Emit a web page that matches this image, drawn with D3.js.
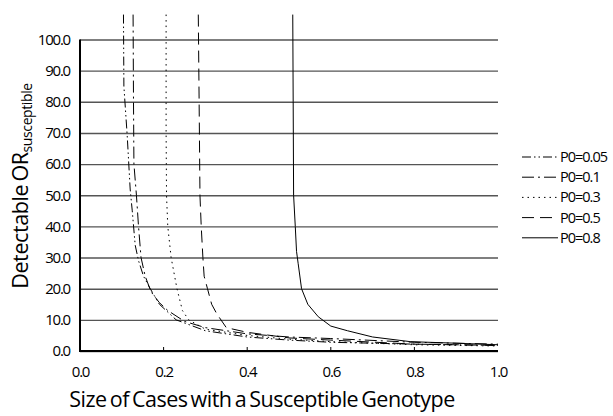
<!DOCTYPE html>
<html>
<head>
<meta charset="utf-8">
<script src="https://cdn.jsdelivr.net/npm/d3@7"></script>
<style>
  body { margin: 0; background: #fff; }
  svg { display: block; font-family: "Open Sans", sans-serif; }
  .grid line { stroke: #555; stroke-width: 1.4; }
  .grid path { display: none; }
  .tick text { fill: #000; }
</style>
</head>
<body>
<script>
// x = fraction of cases with a susceptible genotype, y = detectable OR
const seriesNames = ["P0=0.05", "P0=0.1", "P0=0.3", "P0=0.5", "P0=0.8"];
const p005 = [[0.104, 108], [0.105, 85], [0.113, 69], [0.12, 52], [0.125, 45], [0.132, 34], [0.14, 29], [0.152, 24], [0.168, 20], [0.19, 15], [0.23, 10], [0.3, 6.5], [0.4, 4.5], [0.5, 3.5], [0.6, 2.8], [0.8, 2.2], [1.0, 1.8]];
const p01 = [[0.127, 108], [0.128, 80], [0.129, 60], [0.135, 50], [0.14, 40], [0.146, 30], [0.156, 24], [0.17, 19], [0.19, 15.5], [0.21, 13], [0.25, 9.5], [0.3, 7.5], [0.4, 5.5], [0.5, 4.5], [0.6, 4], [0.8, 2.8], [1.0, 2.2]];
const p03 = [[0.206, 108], [0.206, 70], [0.207, 50], [0.21, 40], [0.218, 30], [0.232, 20], [0.245, 13], [0.26, 10], [0.3, 7], [0.4, 5], [0.5, 3.8], [0.6, 3], [0.8, 2], [1.0, 1.6]];
const p05 = [[0.283, 108], [0.285, 80], [0.287, 50], [0.29, 40], [0.294, 30], [0.297, 24], [0.305, 20], [0.315, 15], [0.327, 12], [0.35, 7.5], [0.4, 6], [0.5, 4.2], [0.6, 3.5], [0.8, 2.2], [1.0, 1.8]];
const p08 = [[0.509, 108], [0.51, 80], [0.511, 50], [0.515, 40], [0.518, 32], [0.522, 28], [0.53, 20], [0.545, 15], [0.57, 11], [0.6, 8], [0.64, 6.5], [0.7, 4.5], [0.79, 3], [0.9, 2.5], [1.0, 2]];
const seriesValues = [p005, p01, p03, p05, p08];
const dashes = ["9,3,1.5,3,1.5,3", "12,4,2,4", "1.5,4", "12,6", null];
const xTicks = [0, 0.2, 0.4, 0.6, 0.8, 1.0];
const yTicks = [0, 10, 20, 30, 40, 50, 60, 70, 80, 90, 100];

const width = 613, height = 416;
const plot = { left: 80, top: 39.5, right: 498, bottom: 351 };

const svg = d3.select("body").append("svg")
  .attr("width", width)
  .attr("height", height);

const x = d3.scaleLinear().domain([0, 1]).range([plot.left, plot.right]);
const y = d3.scaleLinear().domain([0, 100]).range([plot.bottom, plot.top]);

// horizontal gridlines
const grid = svg.append("g")
  .attr("class", "grid")
  .attr("transform", `translate(${plot.left},0)`)
  .call(d3.axisLeft(y).tickValues(yTicks).tickSize(-(plot.right - plot.left)).tickFormat(""));
grid.selectAll(".tick").filter(d => d === 100).select("line").attr("stroke", "#000");

// y axis labels
const yAxis = svg.append("g")
  .attr("transform", `translate(${plot.left},0)`)
  .call(d3.axisLeft(y).tickValues(yTicks).tickSize(0).tickPadding(10).tickFormat(d3.format(".1f")));
yAxis.select(".domain").remove();
yAxis.selectAll("text").attr("font-size", 15).attr("letter-spacing", "-1.2px").attr("font-family", "Open Sans");

// x axis
const xAxis = svg.append("g")
  .attr("transform", `translate(0,${plot.bottom})`)
  .call(d3.axisBottom(x).tickValues(xTicks).tickSize(0).tickPadding(15).tickFormat(d3.format(".1f")));
xAxis.select(".domain").remove();
xAxis.selectAll("text").attr("font-size", 15).attr("letter-spacing", "-1.2px").attr("font-family", "Open Sans");
// small inner ticks
svg.append("g").selectAll("line")
  .data(xTicks.slice(1, -1))
  .join("line")
  .attr("x1", d => x(d)).attr("x2", d => x(d))
  .attr("y1", plot.bottom).attr("y2", plot.bottom - 4)
  .attr("stroke", "#000").attr("stroke-width", 1);

// axis lines
svg.append("line")
  .attr("x1", plot.left).attr("x2", plot.left)
  .attr("y1", plot.top).attr("y2", plot.bottom + 1)
  .attr("stroke", "#000").attr("stroke-width", 2);
svg.append("line")
  .attr("x1", plot.left - 1).attr("x2", plot.right)
  .attr("y1", plot.bottom).attr("y2", plot.bottom)
  .attr("stroke", "#000").attr("stroke-width", 2);

// curves
svg.append("g").selectAll("path")
  .data(seriesValues)
  .join("path")
  .attr("d", d => d3.line().x(p => x(p[0])).y(p => y(p[1]))(d))
  .attr("fill", "none")
  .attr("stroke", "#000")
  .attr("stroke-width", 1)
  .attr("stroke-dasharray", (d, i) => dashes[i]);

// legend
const legend = svg.append("g").attr("transform", "translate(522,157)");
const rows = legend.selectAll("g")
  .data(seriesNames)
  .join("g")
  .attr("transform", (d, i) => `translate(0,${i * 20.2})`);
rows.append("line")
  .attr("x1", 0).attr("x2", 36)
  .attr("stroke", "#000").attr("stroke-width", 1)
  .attr("stroke-dasharray", (d, i) => dashes[i]);
rows.append("text")
  .attr("x", 38).attr("dy", "0.35em")
  .attr("font-size", 14.5).attr("letter-spacing", "-1px")
  .text(d => d);

// axis titles
svg.append("text")
  .attr("x", 262)
  .attr("y", 407)
  .attr("text-anchor", "middle")
  .attr("font-size", 21.5)
  .attr("letter-spacing", "-0.5px")
  .attr("word-spacing", "-2px")
  .text("Size of Cases with a Susceptible Genotype");

const yTitle = svg.append("text")
  .attr("transform", "translate(28,186) rotate(-90)")
  .attr("text-anchor", "middle")
  .attr("font-size", 21.5)
  .attr("letter-spacing", "-0.4px")
  .attr("word-spacing", "-2px");
yTitle.append("tspan").text("Detectable OR");
yTitle.append("tspan").attr("font-size", 14).attr("dy", 4).text("susceptible");
</script>
</body>
</html>
